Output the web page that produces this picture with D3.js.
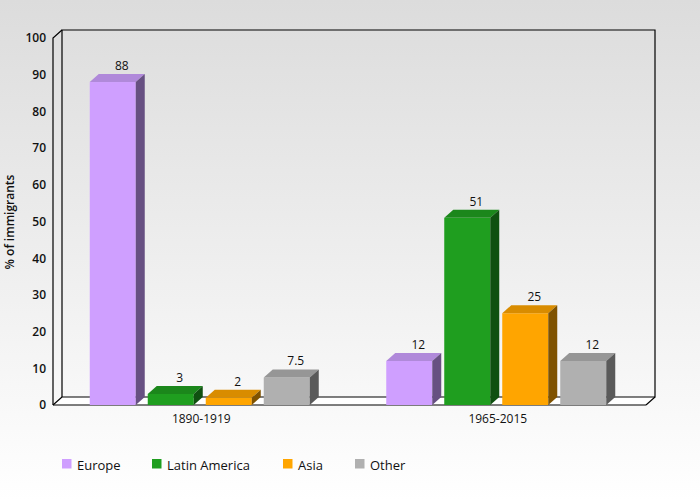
<!DOCTYPE html>
<html><head><meta charset="utf-8">
<script src="https://cdn.jsdelivr.net/npm/d3@7"></script>
<style>body{margin:0;}svg{display:block;font-family:"Open Sans",sans-serif;}</style>
</head><body>
<svg id="c" width="700" height="500"></svg>
<script>
const categories = ["1890-1919", "1965-2015"];
const seriesNames = ["Europe", "Latin America", "Asia", "Other"];
const europe = [88, 12];
const latinAmerica = [3, 51];
const asia = [2, 25];
const other = [7.5, 12];
const yTicks = [0,10,20,30,40,50,60,70,80,90,100];
const seriesValues = [europe, latinAmerica, asia, other];
const colors = [
  {front:"#cf9fff", top:"#b089da", side:"#675082"},
  {front:"#1f9e1f", top:"#1b871b", side:"#0f5010"},
  {front:"#ffa500", top:"#d98c00", side:"#7f5200"},
  {front:"#b0b0b0", top:"#969696", side:"#5a5a5a"}
];

const svg = d3.select("#c");
const defs = svg.append("defs");
const g = defs.append("linearGradient").attr("id","bg").attr("x1",0).attr("y1",0).attr("x2",0).attr("y2",1);
g.append("stop").attr("offset","0%").attr("stop-color","#dcdcdc");
g.append("stop").attr("offset","100%").attr("stop-color","#ffffff");
svg.append("rect").attr("width",700).attr("height",500).attr("fill","url(#bg)");

const L = 53, R = 646, B = 405, T = 38, DX = 9, DY = -8;
const y = d3.scaleLinear().domain([0,100]).range([B, T]);
const x0 = d3.scaleBand().domain(categories).range([L, R]).paddingInner(0).paddingOuter(0);
const x1 = d3.scaleBand().domain(seriesNames).range([0, 220]).paddingInner(12/58).paddingOuter(0);
const groupOffset = (x0.bandwidth() - 220) / 2 - 1.5;

// floor
svg.append("path").attr("d",`M${L},${B}L${L+DX},${B+DY}L${R+DX},${B+DY}L${R},${B}Z`).attr("fill","#ffffff").attr("stroke","none");
const walls = svg.append("g").attr("fill","none").attr("stroke","#000").attr("stroke-width",1.2);
walls.append("path").attr("d", `M${L+DX},${B+DY}L${L+DX},${y(100)+DY}L${R+DX},${y(100)+DY}L${R+DX},${B+DY}L${L+DX},${B+DY}`);
walls.append("path").attr("d", `M${L},${B}L${L},${y(100)}L${L+DX},${y(100)+DY}`);
walls.append("path").attr("d", `M${L},${B}L${L+DX},${B+DY}`);
walls.append("path").attr("d", `M${R},${B}L${R+DX},${B+DY}`);
walls.append("path").attr("d", `M${L},${B}L${R},${B}`);

// y axis labels
const yAxis = d3.axisLeft(y).tickValues(yTicks).tickSize(0).tickPadding(7);
const ya = svg.append("g").attr("transform",`translate(${L},0)`).call(yAxis);
ya.select(".domain").remove();
ya.selectAll("text").attr("font-size",12).attr("font-family","Open Sans, sans-serif").attr("fill","#111").attr("font-weight",600);

// x axis labels
const xAxis = d3.axisBottom(x0).tickSize(0).tickPadding(9);
const xa = svg.append("g").attr("transform",`translate(0,${B})`).call(xAxis);
xa.select(".domain").remove();
xa.selectAll("text").attr("font-size",12).attr("font-family","Open Sans, sans-serif").attr("fill","#111");

// axis title
svg.append("text").attr("transform","translate(14,222) rotate(-90)").attr("text-anchor","middle")
  .attr("font-size",12).attr("font-weight",600).attr("fill","#111").text("% of immigrants");

// bars
const bars = [];
categories.forEach((c, ci) => {
  seriesNames.forEach((s, si) => {
    bars.push({c, s, si, v: seriesValues[si][ci]});
  });
});
const bw = x1.bandwidth();
const bg = svg.append("g");
bars.forEach(d => {
  const xl = x0(d.c) + groupOffset + x1(d.s);
  const yt = y(d.v);
  const col = colors[d.si];
  const gg = bg.append("g");
  gg.append("rect").attr("x",xl).attr("y",yt).attr("width",bw).attr("height",B-yt).attr("fill",col.front);
  gg.append("path").attr("d",`M${xl},${yt}L${xl+DX},${yt+DY}L${xl+bw+DX},${yt+DY}L${xl+bw},${yt}Z`).attr("fill",col.top);
  gg.append("path").attr("d",`M${xl+bw},${yt}L${xl+bw+DX},${yt+DY}L${xl+bw+DX},${B+DY}L${xl+bw},${B}Z`).attr("fill",col.side);
  gg.append("text").attr("x",xl+bw/2+9).attr("y",yt-12).attr("text-anchor","middle")
    .attr("font-size",12).attr("fill","#111").text(d.v);
});

// legend
const legendX = [62, 152, 283, 355];
const lg = svg.append("g");
seriesNames.forEach((s, i) => {
  lg.append("rect").attr("x",legendX[i]).attr("y",459).attr("width",9.5).attr("height",9.5).attr("fill",colors[i].front);
  lg.append("text").attr("x",legendX[i]+15).attr("y",470).attr("font-size",13).attr("fill","#111").text(s);
});
</script>
</body></html>
